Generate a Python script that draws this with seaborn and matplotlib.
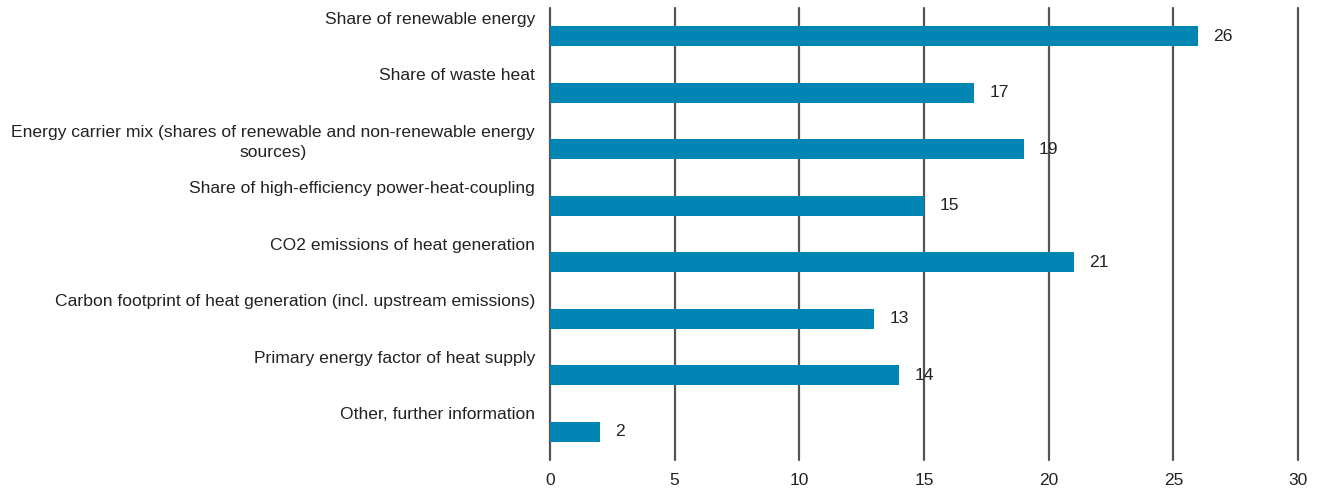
import matplotlib
matplotlib.use("Agg")
import matplotlib.pyplot as plt
import matplotlib.transforms as mtransforms
import seaborn as sns
import pandas as pd

categories = [
    "Share of renewable energy",
    "Share of waste heat",
    "Energy carrier mix (shares of renewable and non-renewable energy\nsources)",
    "Share of high-efficiency power-heat-coupling",
    "CO2 emissions of heat generation",
    "Carbon footprint of heat generation (incl. upstream emissions)",
    "Primary energy factor of heat supply",
    "Other, further information",
]
values = [26, 17, 19, 15, 21, 13, 14, 2]
x_ticks = [0, 5, 10, 15, 20, 25, 30]

sns.set_theme(style="white")
plt.rcParams["font.family"] = ["Liberation Sans", "DejaVu Sans"]

df = pd.DataFrame({"category": categories, "value": values})

fig = plt.figure(figsize=(13.21, 4.9), dpi=100)
ax = fig.add_axes([550 / 1321, 30 / 490, (1298 - 550) / 1321, 452 / 490])

sns.barplot(data=df, x="value", y="category", orient="h", color="#0085b5",
            width=0.36, saturation=1, linewidth=0, ax=ax, zorder=3)

ax.set_xlim(0, 30)
ax.set_xticks(x_ticks)
ax.set_xticklabels([str(t) for t in x_ticks], fontsize=12.5, color="#222222")
ax.tick_params(axis="x", length=0, pad=9)
ax.set_yticks([])
ax.set_xlabel("")
ax.set_ylabel("")
for s in ax.spines.values():
    s.set_visible(False)
for t in x_ticks:
    ax.axvline(t, color="#555555", linewidth=1.6, zorder=2, clip_on=False)

trans = mtransforms.blended_transform_factory(ax.transAxes, ax.transData)
for i, cat in enumerate(categories):
    ax.text(-15 / 748, i - 0.43, cat, transform=trans, ha="right", va="top",
            fontsize=12.6, color="#222222", multialignment="center",
            linespacing=1.4)

for c in ax.containers:
    ax.bar_label(c, labels=[str(v) for v in values], padding=11, fontsize=12.6,
                 color="#222222")

fig.savefig("out.png", dpi=100)
